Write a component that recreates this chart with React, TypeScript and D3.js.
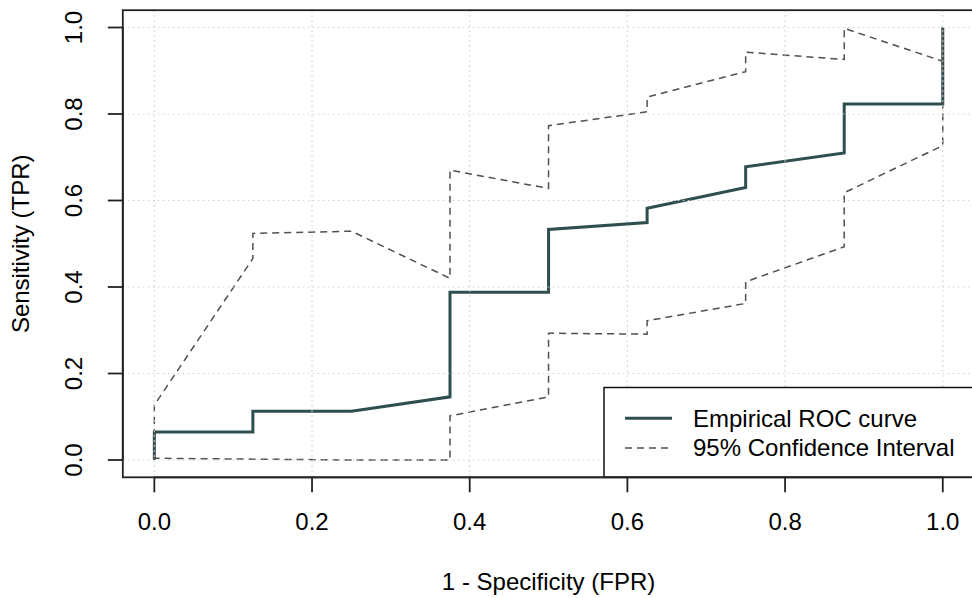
import React from "react";
import * as d3 from "d3";

const xTicks = [0, 0.2, 0.4, 0.6, 0.8, 1.0];
const yTicks = [0, 0.2, 0.4, 0.6, 0.8, 1.0];

const rocFPR = [0, 0, 0.125, 0.125, 0.25, 0.375, 0.375, 0.5, 0.5, 0.625, 0.625, 0.75, 0.75, 0.875, 0.875, 1, 1];
const rocTPR = [0, 0.065, 0.065, 0.113, 0.113, 0.146, 0.388, 0.388, 0.533, 0.549, 0.582, 0.63, 0.678, 0.71, 0.823, 0.823, 1.0];

const upperFPR = [0, 0, 0.125, 0.125, 0.25, 0.375, 0.375, 0.5, 0.5, 0.625, 0.625, 0.75, 0.75, 0.875, 0.875, 1, 1];
const upperTPR = [0, 0.127, 0.466, 0.524, 0.529, 0.42, 0.67, 0.628, 0.773, 0.805, 0.839, 0.898, 0.943, 0.926, 0.998, 0.922, 1.0];

const lowerFPR = [0, 0, 0.125, 0.25, 0.375, 0.375, 0.5, 0.5, 0.625, 0.625, 0.75, 0.75, 0.875, 0.875, 1, 1];
const lowerTPR = [0, 0.004, 0.002, 0.0, 0.0, 0.102, 0.146, 0.293, 0.291, 0.322, 0.362, 0.412, 0.493, 0.618, 0.727, 1.0];

const legendLabels = ["Empirical ROC curve", "95% Confidence Interval"];

const W = 972;
const H = 598;
const FONT = "'Liberation Sans', Arial, Helvetica, sans-serif";

export default function App() {
  const x = d3.scaleLinear().domain([-0.04, 1.04]).range([122.8, 974.3]);
  const y = d3.scaleLinear().domain([-0.04, 1.04]).range([477.3, 10.2]);

  const line = d3
    .line<[number, number]>()
    .x((d) => x(d[0]))
    .y((d) => y(d[1]));

  const roc = rocFPR.map((v, i) => [v, rocTPR[i]] as [number, number]);
  const upper = upperFPR.map((v, i) => [v, upperTPR[i]] as [number, number]);
  const lower = lowerFPR.map((v, i) => [v, lowerTPR[i]] as [number, number]);

  const left = x(-0.04);
  const right = x(1.04);
  const top = y(1.04);
  const bottom = y(-0.04);

  const solidColor = "#2f4f4f";
  const dashColor = "#505050";
  const gridColor = "#cfcfcf";

  const legX = 604;
  const legY = 387.5;

  return (
    <svg
      width={W}
      height={H}
      style={{ position: "absolute", left: 0, top: 0, background: "#fff" }}
      fontFamily={FONT}
    >
      <rect x={0} y={0} width={W} height={H} fill="#fff" />
      {/* curves */}
      <path d={line(roc) || ""} fill="none" stroke={solidColor} strokeWidth={3} strokeLinejoin="miter" />
      <path d={line(upper) || ""} fill="none" stroke={dashColor} strokeWidth={1.5} strokeDasharray="7,5" />
      <path d={line(lower) || ""} fill="none" stroke={dashColor} strokeWidth={1.5} strokeDasharray="7,5" />

      {/* grid (drawn on top, as in reference) */}
      {xTicks.map((t) => (
        <line key={"gx" + t} x1={x(t)} x2={x(t)} y1={top} y2={bottom} stroke={gridColor} strokeWidth={1.2} strokeDasharray="1.5,3.5" />
      ))}
      {yTicks.map((t) => (
        <line key={"gy" + t} x1={left} x2={right} y1={y(t)} y2={y(t)} stroke={gridColor} strokeWidth={1.2} strokeDasharray="1.5,3.5" />
      ))}

      {/* legend */}
      <rect x={legX} y={legY} width={right - legX} height={bottom - legY} fill="#fff" stroke="#111" strokeWidth={1.5} />
      <line x1={625} x2={672} y1={418.3} y2={418.3} stroke={solidColor} strokeWidth={3} />
      <line x1={625} x2={672} y1={448} y2={448} stroke={dashColor} strokeWidth={1.5} strokeDasharray="7,5" />
      <text x={693} y={426.5} fontSize={24} fill="#000">{legendLabels[0]}</text>
      <text x={693} y={456} fontSize={24} fill="#000">{legendLabels[1]}</text>

      {/* box */}
      <rect x={left} y={top} width={right - left} height={bottom - top} fill="none" stroke="#222" strokeWidth={1.8} />

      {/* x axis */}
      <line x1={x(0)} x2={x(1)} y1={bottom} y2={bottom} stroke="#222" strokeWidth={1.8} />
      {xTicks.map((t) => (
        <g key={"xt" + t}>
          <line x1={x(t)} x2={x(t)} y1={bottom} y2={bottom + 15} stroke="#222" strokeWidth={1.8} />
          <text x={x(t)} y={530} fontSize={24} textAnchor="middle" fill="#000">
            {d3.format(".1f")(t)}
          </text>
        </g>
      ))}
      {/* y axis */}
      <line x1={left} x2={left} y1={y(0)} y2={y(1)} stroke="#222" strokeWidth={1.8} />
      {yTicks.map((t) => (
        <g key={"yt" + t}>
          <line x1={left} x2={left - 15} y1={y(t)} y2={y(t)} stroke="#222" strokeWidth={1.8} />
          <text
            transform={`translate(${82},${y(t)}) rotate(-90)`}
            fontSize={24}
            textAnchor="middle"
            fill="#000"
          >
            {d3.format(".1f")(t)}
          </text>
        </g>
      ))}

      {/* axis titles */}
      <text x={(x(0) + x(1)) / 2} y={590} fontSize={24} textAnchor="middle" fill="#000">
        1 - Specificity (FPR)
      </text>
      <text transform={`translate(29,${(y(0) + y(1)) / 2}) rotate(-90)`} fontSize={24} textAnchor="middle" fill="#000">
        Sensitivity (TPR)
      </text>
    </svg>
  );
}
